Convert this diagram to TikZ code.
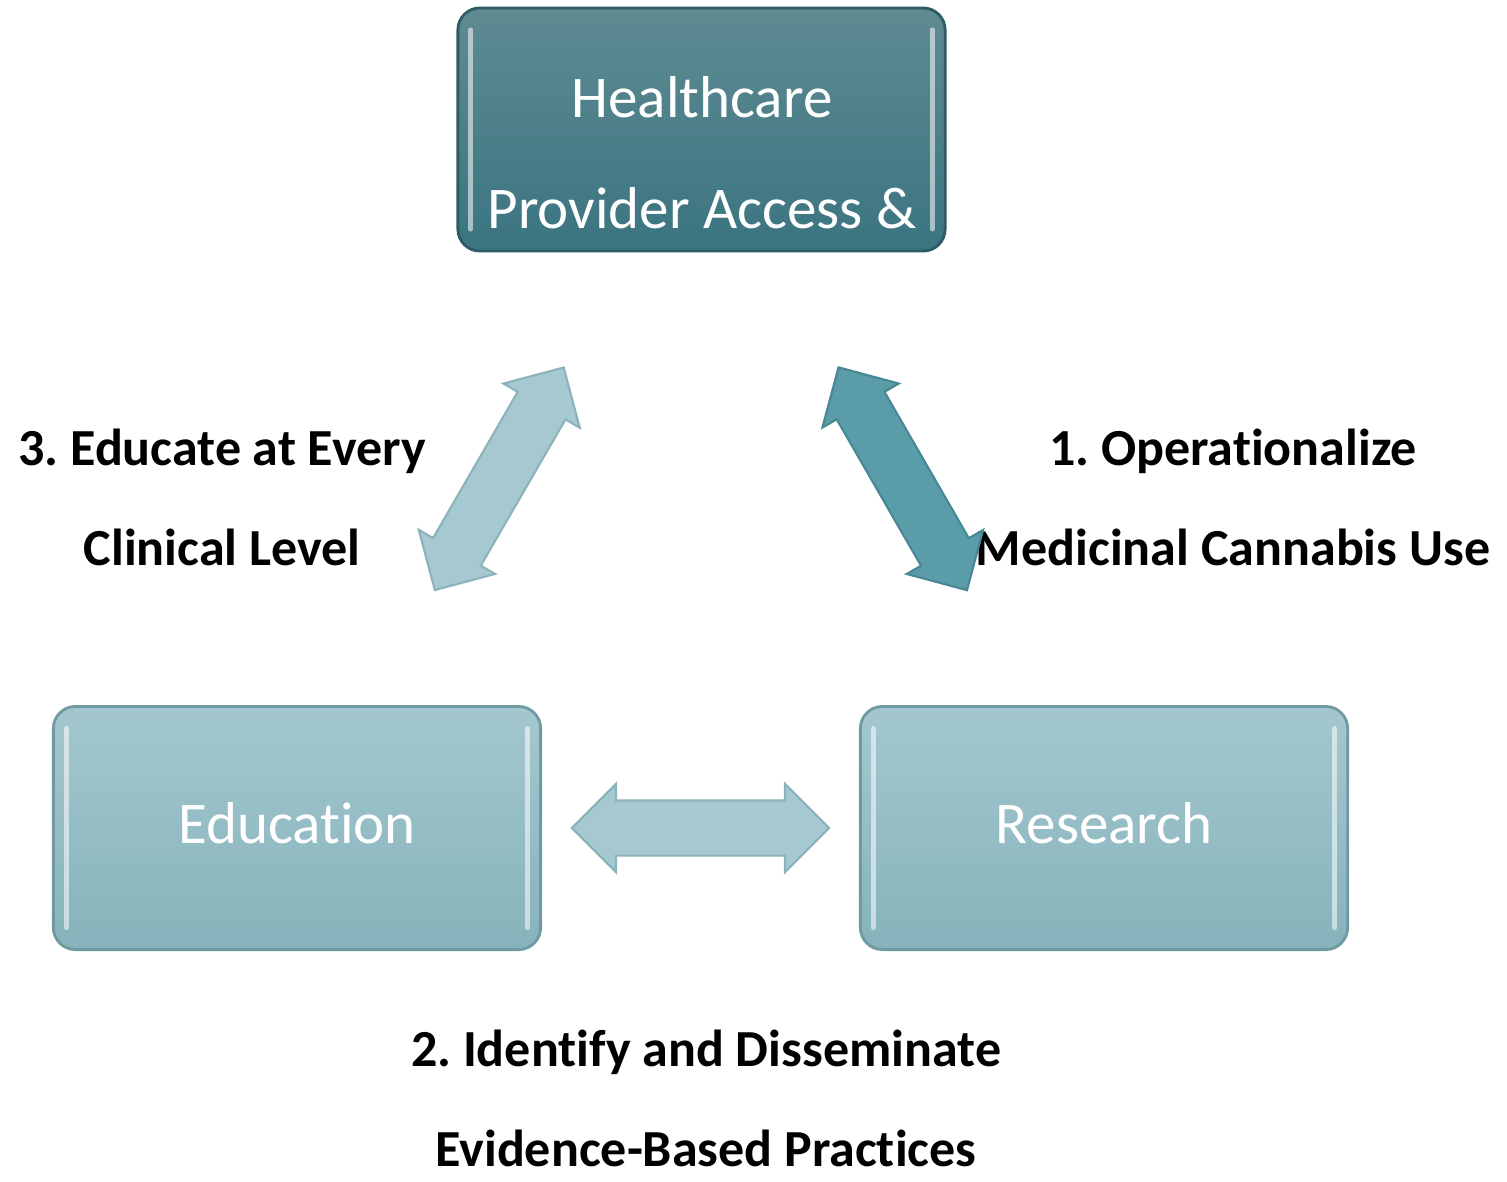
\documentclass[tikz,border=0pt]{standalone}
\usepackage{fontspec}
\setmainfont{Carlito}[Ligatures={NoCommon,NoContextual}]
\usepackage{tikz}
\usetikzlibrary{shapes.arrows}
\frenchspacing

\definecolor{hctop}{HTML}{5F8B92}
\definecolor{hcbot}{HTML}{3A7480}
\definecolor{hcedge}{HTML}{2E5C64}
\definecolor{lttop}{HTML}{A4C7CF}
\definecolor{ltbot}{HTML}{86B3BB}
\definecolor{ltedge}{HTML}{6F9AA2}
\definecolor{arlight}{HTML}{A6C9D1}
\definecolor{arlightedge}{HTML}{8CB2BA}
\definecolor{ardark}{HTML}{5A9CA8}
\definecolor{ardarkedge}{HTML}{478893}

\begin{document}
\begin{tikzpicture}[x=0.01cm, y=-0.01cm,
	basebox/.style={rounded corners=0.22cm, minimum width=4.87cm, minimum height=2.43cm, inner sep=0pt, line width=0.8pt, text=white, font=\fontsize{16.8}{31.6}\selectfont, align=center,
		path picture={
			\draw[white, opacity=0.55, line width=1.4pt, line cap=round] ([xshift=0.13cm, yshift=-0.22cm]path picture bounding box.north west) -- ([xshift=0.13cm, yshift=0.22cm]path picture bounding box.south west);
			\draw[white, opacity=0.55, line width=1.4pt, line cap=round] ([xshift=-0.13cm, yshift=-0.22cm]path picture bounding box.north east) -- ([xshift=-0.13cm, yshift=0.22cm]path picture bounding box.south east);
		}},
	darkbox/.style={basebox, draw=hcedge, top color=hctop, bottom color=hcbot},
	lightbox/.style={basebox, draw=ltedge, top color=lttop, bottom color=ltbot, text depth=0.1cm},
	boxtext/.style={text=white, font=\fontsize{16.8}{31.6}\selectfont, align=center, inner sep=0pt},
	lbl/.style={font=\fontsize{14.8}{28.45}\selectfont\bfseries, align=center, inner sep=0pt},
	blockarrow/.style={double arrow, double arrow tip angle=90, double arrow head extend=0.165cm, minimum height=2.57cm, inner xsep=0pt, inner ysep=0.265cm, line width=0.6pt},
	lightarrow/.style={blockarrow, fill=arlight, draw=arlightedge},
	darkarrow/.style={blockarrow, fill=ardark, draw=ardarkedge}]

	\useasboundingbox (0, 0) rectangle (1507, 1181);

	\node[darkbox] (hc) at (701.5, 129.5) {};
	\node[boxtext] (hctext) at (702, 153) {Healthcare\\Provider Access \&};
	\node[lightbox] (edu) at (297, 828) {Education};
	\node[lightbox] (res) at (1104, 828) {Research};

	\node[lbl] (oplbl) at (1233, 497) {1. Operationalize\\Medicinal Cannabis Use};
	\node[lbl] (ebplbl) at (706, 1098) {2. Identify and Disseminate\\Evidence-Based Practices};
	\node[lbl] (edulbl) at (222, 497) {3. Educate at Every\\Clinical Level};

	\path (edu.center) -- node[sloped, lightarrow] {} (hc.center);
	\path (res.center) -- node[sloped, darkarrow] {} (hc.center);
	\path (edu.center) -- node[lightarrow] {} (res.center);

\end{tikzpicture}
\end{document}
